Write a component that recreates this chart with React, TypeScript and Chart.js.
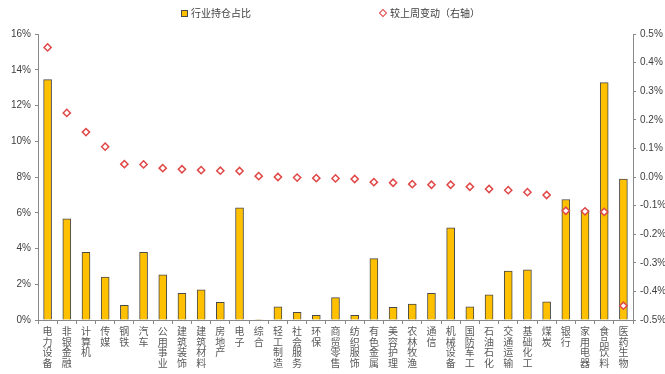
import React, { useEffect, useRef } from "react";
import { Chart, registerables } from "chart.js";

Chart.register(...registerables);

const categories = [
  "电力设备", "非银金融", "计算机", "传媒", "钢铁", "汽车", "公用事业", "建筑装饰", "建筑材料", "房地产",
  "电子", "综合", "轻工制造", "社会服务", "环保", "商贸零售", "纺织服饰", "有色金属", "美容护理", "农林牧渔",
  "通信", "机械设备", "国防军工", "石油石化", "交通运输", "基础化工", "煤炭", "银行", "家用电器", "食品饮料", "医药生物",
];
const holdingShare = [
  13.45, 5.66, 3.78, 2.4, 0.82, 3.78, 2.53, 1.49, 1.69, 0.99,
  6.27, 0.03, 0.73, 0.43, 0.26, 1.25, 0.26, 3.43, 0.71, 0.89,
  1.49, 5.16, 0.73, 1.41, 2.74, 2.81, 1.02, 6.74, 6.15, 13.28, 7.88,
];
const weeklyChange = [
  0.453, 0.224, 0.157, 0.106, 0.045, 0.044, 0.031, 0.027, 0.024, 0.022,
  0.021, 0.003, 0.0, -0.002, -0.004, -0.005, -0.007, -0.018, -0.02, -0.025,
  -0.027, -0.027, -0.034, -0.042, -0.046, -0.053, -0.063, -0.118, -0.12, -0.122, -0.45,
];
const seriesNames = ["行业持仓占比", "较上周变动（右轴）"];

const CJK = '"Noto Sans CJK SC", sans-serif';
const LAT = '"Liberation Sans", Arial, sans-serif';

export default function App() {
  const ref = useRef<HTMLCanvasElement>(null);
  useEffect(() => {
    document.body.style.margin = "0";
    const ctx = ref.current!.getContext("2d")!;
    const chart = new Chart(ctx, {
      type: "bar",
      data: {
        labels: categories.map((c) => c.split("")),
        datasets: [
          {
            type: "line",
            label: seriesNames[1],
            data: weeklyChange,
            yAxisID: "y1",
            showLine: false,
            pointStyle: "rectRot",
            pointRadius: 3.6,
            pointBorderWidth: 1.5,
            pointBorderColor: "#E04848",
            pointBackgroundColor: "#FFFFFF",
            borderColor: "#E04848",
            backgroundColor: "#FFFFFF",
            order: 0,
          } as any,
          {
            type: "bar",
            label: seriesNames[0],
            data: holdingShare,
            yAxisID: "y",
            backgroundColor: "#FFC000",
            borderColor: "#4a4a4a",
            borderWidth: 1,
            barThickness: 8,
            order: 1,
          },
        ],
      },
      options: {
        responsive: false,
        animation: false,
        layout: { padding: { top: 34, left: 0, right: 0, bottom: 0 } },
        plugins: { legend: { display: false }, tooltip: { enabled: false } },
        scales: {
          x: {
            offset: true,
            grid: { offset: true, drawOnChartArea: false, drawTicks: true, tickLength: 4, color: "#888888" },
            border: { display: true, color: "#888888" },
            ticks: {
              autoSkip: false,
              maxRotation: 0,
              minRotation: 0,
              padding: 2,
              color: "#595959",
              font: { family: CJK, size: 10, lineHeight: 1.05 },
            },
            afterFit: (s: any) => {
              s.height = 54;
            },
          },
          y: {
            position: "left",
            min: 0,
            max: 16,
            ticks: {
              stepSize: 2,
              padding: 4,
              color: "#404040",
              font: { family: LAT, size: 10 },
              callback: (v: any) => `${Math.round(Number(v))}%`,
            },
            grid: { drawOnChartArea: false, drawTicks: true, tickLength: 3, color: "#888888" },
            border: { display: true, color: "#888888" },
            afterFit: (s: any) => {
              s.width = 38;
            },
          },
          y1: {
            position: "right",
            min: -0.5,
            max: 0.5,
            ticks: {
              stepSize: 0.1,
              padding: 4,
              color: "#404040",
              font: { family: LAT, size: 10 },
              callback: (v: any) => `${Number(v).toFixed(1)}%`,
            },
            grid: { drawOnChartArea: false, drawTicks: true, tickLength: 3, color: "#888888" },
            border: { display: true, color: "#888888" },
            afterFit: (s: any) => {
              s.width = 32;
            },
          },
        },
      },
    });
    return () => chart.destroy();
  }, []);

  return (
    <div style={{ position: "relative", width: 665, height: 374, background: "#fff" }}>
      <canvas ref={ref} width={665} height={374} style={{ display: "block" }} />
      <div
        style={{
          position: "absolute",
          left: 181,
          top: 6,
          display: "flex",
          alignItems: "center",
          fontFamily: CJK,
          fontSize: 10,
          color: "#404040",
          lineHeight: "14px",
        }}
      >
        <span
          style={{
            display: "inline-block",
            width: 5,
            height: 5,
            background: "#FFC000",
            border: "1px solid #4a4a4a",
            marginRight: 3,
          }}
        />
        {seriesNames[0]}
      </div>
      <div
        style={{
          position: "absolute",
          left: 379,
          top: 6,
          display: "flex",
          alignItems: "center",
          fontFamily: CJK,
          fontSize: 10,
          color: "#404040",
          lineHeight: "14px",
        }}
      >
        <span
          style={{
            display: "inline-block",
            width: 4,
            height: 4,
            background: "#fff",
            border: "1.5px solid #E04848",
            transform: "rotate(45deg)",
            marginRight: 4,
            marginLeft: 1,
          }}
        />
        {seriesNames[1]}
      </div>
    </div>
  );
}
